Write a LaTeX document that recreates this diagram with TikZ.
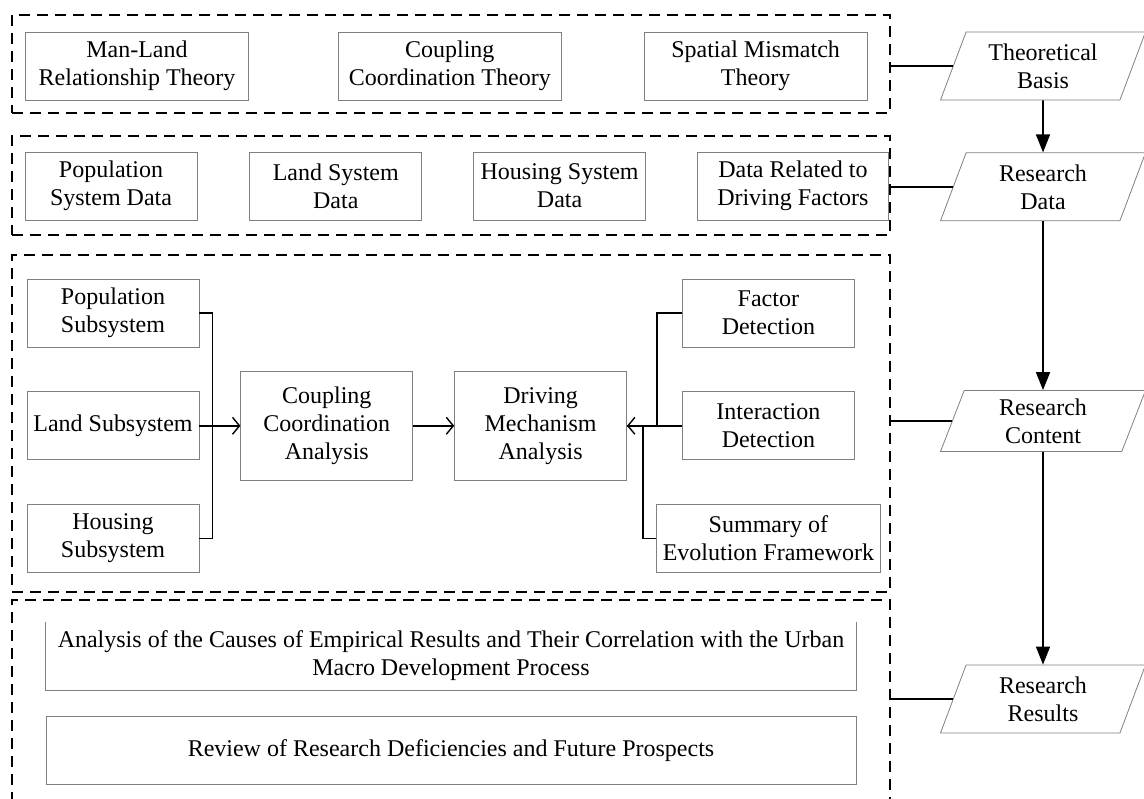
\documentclass[tikz,border=0pt]{standalone}
\usepackage{fontspec}
\setmainfont{Liberation Serif}
\usetikzlibrary{shapes.geometric, arrows.meta, positioning, fit}

\begin{document}
\begin{tikzpicture}[
    x=1pt, y=-1pt,
    font=\fontsize{24}{28}\selectfont,
    edge/.style={draw=black!50, line width=0.8pt},
    cell/.style={rectangle, edge, minimum width=172pt, minimum height=68pt, inner xsep=2pt, align=center},
    wide/.style={cell, minimum width=810pt},
    stage/.style={trapezium, trapezium left angle=65, trapezium right angle=115, trapezium stretches body, edge, minimum width=205pt, minimum height=68pt, inner ysep=5pt, align=center},
    panel/.style={rectangle, draw=black, line width=1.5pt, dash pattern=on 11pt off 7pt, inner sep=0pt},
    link/.style={draw=black, line width=1.6pt},
    arrow/.style={link, -{Straight Barb[length=7pt,width=17pt,line width=1.4pt]}},
    flow/.style={link, -{Triangle[length=18pt,width=14pt]}}
]
\useasboundingbox (0,0) rectangle (1144,799);

% Theories
\node[cell, minimum width=223pt] (mlt) at (137,66) {Man-Land\\Relationship Theory};
\node[cell, minimum width=223pt, right=89pt of mlt] (cct) {Coupling\\Coordination Theory};
\node[cell, minimum width=223pt, right=82pt of cct] (smt) {Spatial Mismatch\\Theory};

% Data
\node[cell] (psd) at (111,186) {Population\\System Data};
\node[cell, right=52pt of psd] (lsd) {Land System\\Data};
\node[cell, right=51pt of lsd] (hsd) {Housing System\\Data};
\node[cell, minimum width=191pt, right=51pt of hsd] (drf) {Data Related to\\Driving Factors};

% Content
\node[cell] (pops) at (113,313) {Population\\Subsystem};
\node[cell, below=44pt of pops] (lands) {Land Subsystem};
\node[cell, below=44pt of lands] (hous) {Housing\\Subsystem};
\node[cell, minimum height=109pt, right=41pt of lands] (cca) {Coupling\\Coordination\\Analysis};
\node[cell, minimum height=109pt, right=41pt of cca] (dma) {Driving\\Mechanism\\Analysis};
\node[cell, right=55pt of dma] (id) {Interaction\\Detection};
\node[cell, above=44pt of id] (fd) {Factor\\Detection};
\node[cell, minimum width=224pt, below=44pt of id] (sef) {Summary of\\Evolution Framework};

% Results
\node[wide, draw=none] (cause) at (451,656) {Analysis of the Causes of Empirical Results and Their Correlation with the Urban\\Macro Development Process};
\draw[edge] (cause.north west) |- (cause.south east) -- (cause.north east);
\node[wide, below=26pt of cause] (review) {Review of Research Deficiencies and Future Prospects};

% Dashed panels
\node[panel, fit={(12,15) (890,113)}] (pnl1) {};
\node[panel, fit={(12,136) (890,235)}] (pnl2) {};
\node[panel, fit={(12,255) (890,592)}] (pnl3) {};
\begin{scope}
  \clip (0,0) rectangle (1144,799);
  \node[panel, fit={(12,600) (890,830)}] (pnl4) {};
\end{scope}

% Stages
\node[stage] (tb) at (1043,66) {Theoretical\\Basis};
\node[stage, below=52pt of tb] (rd) {Research\\Data};
\node[stage, minimum height=61pt, inner ysep=3pt] (rc) at (1043,421) {Research\\Content};
\node[stage] (rr) at (1043,699) {Research\\Results};

% Connectors
\draw[link] (tb.west -| pnl1.east) -- (tb.west);
\draw[link] (rd.west -| pnl2.east) -- (rd.west);
\draw[link] (rc.west -| pnl3.east) -- (rc.west);
\draw[link] (rr.west -| pnl4.east) -- (rr.west);

\draw[flow] (tb) -- (rd);
\draw[flow] (rd) -- (rc);
\draw[flow] (rc) -- (rr);

\draw[link] (pops.east) -- ++(13,0) |- (hous.east);
\draw[arrow] (lands) -- (cca);
\draw[arrow] (cca) -- (dma);

\draw[link] (fd.west) -- ++(-25,0) |- (id.west);
\draw[link] (sef.west) -- ++(-13,0) |- (dma.east);
\draw[arrow] (id) -- (dma);

\end{tikzpicture}
\end{document}
